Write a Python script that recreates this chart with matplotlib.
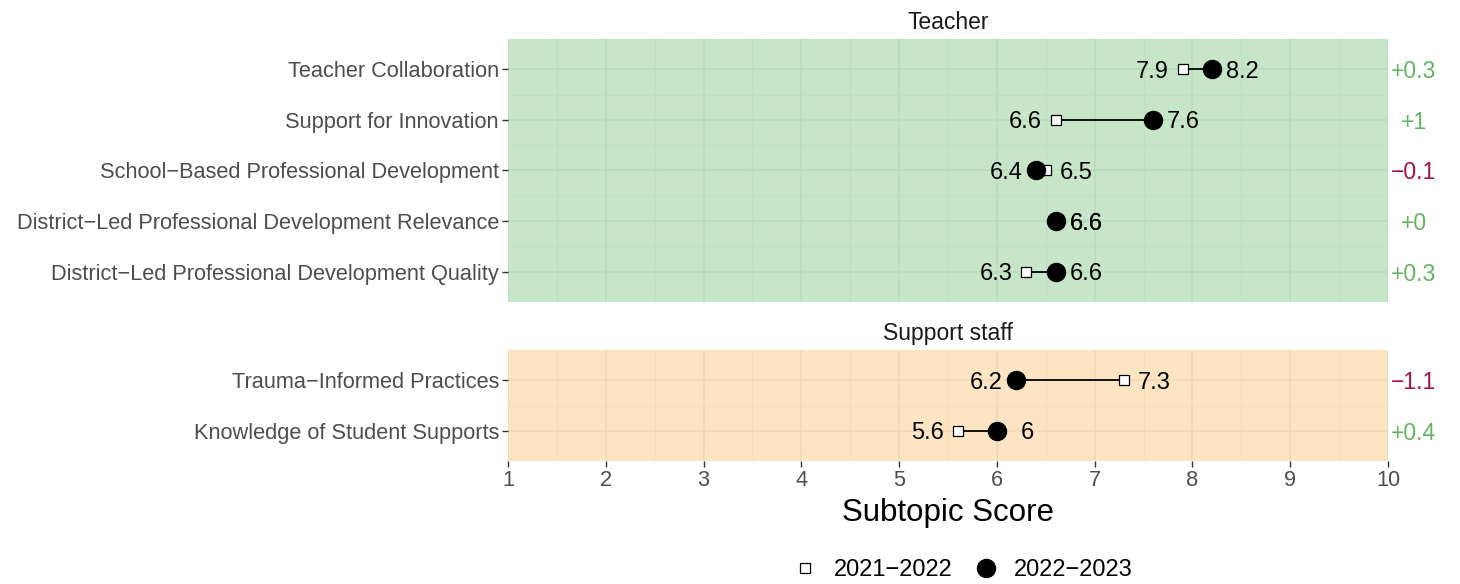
import matplotlib.pyplot as plt
from matplotlib.lines import Line2D
from matplotlib.transforms import blended_transform_factory

plt.rcParams['font.family'] = ['Liberation Sans', 'DejaVu Sans']

# data
teacher_topics = ["Teacher Collaboration",
                  "Support for Innovation",
                  "School\u2212Based Professional Development",
                  "District\u2212Led Professional Development Relevance",
                  "District\u2212Led Professional Development Quality"]
teacher_2122 = [7.9, 6.6, 6.5, 6.6, 6.3]
teacher_2223 = [8.2, 7.6, 6.4, 6.6, 6.6]

staff_topics = ["Trauma\u2212Informed Practices",
                "Knowledge of Student Supports"]
staff_2122 = [7.3, 5.6]
staff_2223 = [6.2, 6.0]

year_labels = ["2021\u22122022", "2022\u22122023"]
x_ticks = [1, 2, 3, 4, 5, 6, 7, 8, 9, 10]

W, H = 1460, 584
fig = plt.figure(figsize=(W / 100, H / 100), dpi=100)

def fmt(v):
  return f"{v:g}".replace("-", "\u2212")

def panel(rect, title, topics, old, new, bg, grid_major, grid_minor, show_x):
  ax = fig.add_axes(rect)
  ax.set_facecolor(bg)
  n = len(topics)
  ys = list(range(n, 0, -1))
  ax.set_xlim(1, 10)
  ax.set_ylim(0.4, n + 0.6)
  for s in ax.spines.values():
    s.set_visible(False)
  # grid
  for v in x_ticks:
    ax.axvline(v, color=grid_major, lw=1.1, zorder=0)
  for v in x_ticks[:-1]:
    ax.axvline(v + 0.5, color=grid_minor, lw=0.8, zorder=0)
  for y in ys:
    ax.axhline(y, color=grid_major, lw=1.1, zorder=0)
  for y in range(n - 1):
    ax.axhline(y + 1.5, color=grid_minor, lw=0.8, zorder=0)

  trans = blended_transform_factory(ax.transAxes, ax.transData)
  for y, o, nw in zip(ys, old, new):
    ax.plot([o, nw], [y, y], color='black', lw=1.3, zorder=2)
    ax.plot(o, y, marker='s', ms=6.5, mfc='white', mec='black', mew=0.9, zorder=3)
    ax.plot(nw, y, marker='o', ms=13, color='black', zorder=4)
    lo, hi = min(o, nw), max(o, nw)
    if o == nw:
      labs = [(o + 0.31, o), (nw + 0.31, nw)]
    else:
      labs = [(lo - 0.31, lo), (hi + 0.31, hi)]
    for lx, v in labs:
      ax.text(lx, y, fmt(v), ha='center', va='center_baseline', fontsize=17, zorder=5)
    d = round(nw - o, 1) + 0.0
    col = '#a50f3c' if d < 0 else '#62b462'
    ax.text(1.029, y, ("+" if d >= 0 else "") + fmt(d), transform=trans,
            ha='center', va='center_baseline', fontsize=16.5, color=col, clip_on=False)

  ax.set_yticks(ys)
  ax.set_yticklabels(topics, fontsize=15.7, color='#4d4d4d')
  ax.tick_params(axis='y', length=4.5, width=1.0, color='#333333', pad=2)
  ax.set_xticks(x_ticks)
  if show_x:
    ax.set_xticklabels([str(v) for v in x_ticks], fontsize=15.7, color='#4d4d4d')
    ax.tick_params(axis='x', length=4.5, width=1.0, color='#333333', pad=2)
  else:
    ax.tick_params(axis='x', length=0, labelbottom=False)
  ax.set_title(title, fontsize=16.5, color='#1a1a1a', pad=7)
  return ax

panel([508 / W, 1 - 302 / H, 880 / W, 263 / H], "Teacher",
      teacher_topics, teacher_2122, teacher_2223,
      '#c7e5c8', '#b9ddbb', '#bfe0c1', False)
ax2 = panel([508 / W, 1 - 461 / H, 880 / W, 111 / H], "Support staff",
            staff_topics, staff_2122, staff_2223,
            '#fde5c4', '#f2d8b5', '#f6ddbb', True)
ax2.set_xlabel("Subtopic Score", fontsize=22.5, color='black', labelpad=5)

handles = [Line2D([], [], ls='none', marker='s', ms=6.5, mfc='white', mec='black', mew=0.9),
           Line2D([], [], ls='none', marker='o', ms=13, color='black')]
fig.legend(handles, year_labels, loc='center', bbox_to_anchor=(962 / W, 1 - 570 / H),
           ncol=2, frameon=False, fontsize=17, handlelength=1.2, handletextpad=0.6,
           columnspacing=0.8)

fig.savefig('out.png', dpi=100)
